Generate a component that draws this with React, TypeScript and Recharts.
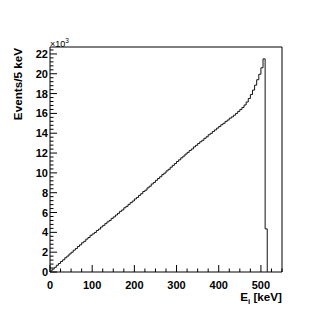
import { LineChart, Line, XAxis, YAxis, ReferenceArea } from 'recharts';

// 5 keV bins starting at 0 keV, counts per bin
const BIN_WIDTH = 5;
const counts = [
  100, 290, 470, 680, 860, 1060, 1230, 1440, 1610, 1820,
  1990, 2200, 2360, 2570, 2740, 2950, 3100, 3320, 3480, 3700,
  3840, 3990, 4190, 4330, 4540, 4700, 4880, 5060, 5200, 5410,
  5560, 5750, 5920, 6120, 6260, 6480, 6620, 6820, 7000, 7160,
  7370, 7520, 7730, 7900, 8120, 8260, 8490, 8650, 8880, 9040,
  9250, 9430, 9610, 9820, 9980, 10200, 10360, 10570, 10760, 10940,
  11150, 11320, 11520, 11690, 11900, 12070, 12260, 12410, 12620, 12780,
  12960, 13140, 13290, 13490, 13640, 13850, 13990, 14180, 14340, 14520,
  14680, 14860, 15000, 15190, 15330, 15520, 15650, 15820, 16000, 16200,
  16400, 16600, 16850, 17150, 17500, 17900, 18350, 18850, 19400, 19950,
  20600, 21500, 4350,
];

const xMajorTicks = [0, 100, 200, 300, 400, 500];
const yMajorTicks = [0, 2000, 4000, 6000, 8000, 10000, 12000, 14000, 16000, 18000, 20000, 22000];
const xAllTicks = Array.from({ length: 23 }, (_, i) => i * 25);
const yAllTicks = Array.from({ length: 57 }, (_, i) => i * 400);

const X_MAX = 550;
const Y_MAX = 22700;

const data = counts
  .map((n, i) => ({ e: i * BIN_WIDTH, n }))
  .concat([{ e: counts.length * BIN_WIDTH, n: 0 }]);

const FONT = '"Liberation Sans", Arial, Helvetica, sans-serif';

const XTick = (props: any) => {
  const { x, y, payload } = props;
  const major = xMajorTicks.includes(payload.value);
  return (
    <g>
      <line x1={x} y1={y} x2={x} y2={y - (major ? 7 : 3.5)} stroke="#000" strokeWidth={1} />
      {major && (
        <text x={x} y={y + 16.5} textAnchor="middle" fontFamily={FONT} fontWeight="bold" fontSize={11} fill="#000">
          {payload.value}
        </text>
      )}
    </g>
  );
};

const YTick = (props: any) => {
  const { x, y, payload } = props;
  const major = yMajorTicks.includes(payload.value);
  return (
    <g>
      <line x1={x} y1={y} x2={x + (major ? 7 : 3.5)} y2={y} stroke="#000" strokeWidth={1} />
      {major && (
        <text x={x - 2} y={y + 4} textAnchor="end" fontFamily={FONT} fontWeight="bold" fontSize={11} fill="#000">
          {payload.value / 1000}
        </text>
      )}
    </g>
  );
};

export default function App() {
  return (
    <div style={{ position: 'absolute', left: 0, top: 0, width: 332, height: 321, background: '#fff' }}>
      <LineChart width={332} height={321} data={data} margin={{ top: 47, right: 50, bottom: 19, left: 10 }}>
        <XAxis
          dataKey="e"
          type="number"
          domain={[0, X_MAX]}
          ticks={xAllTicks}
          interval={0}
          tick={<XTick />}
          tickLine={false}
          axisLine={false}
          tickSize={0}
          tickMargin={0}
          height={30}
        />
        <YAxis
          type="number"
          domain={[0, Y_MAX]}
          ticks={yAllTicks}
          interval={0}
          tick={<YTick />}
          tickLine={false}
          axisLine={false}
          tickSize={0}
          tickMargin={0}
          width={40}
          allowDataOverflow
        />
        <ReferenceArea x1={0} x2={X_MAX} y1={0} y2={Y_MAX} fill="none" stroke="#000" strokeWidth={1} fillOpacity={0} />
        <Line
          dataKey="n"
          type="stepAfter"
          stroke="#111"
          strokeWidth={1}
          dot={false}
          activeDot={false}
          isAnimationActive={false}
        />
      </LineChart>
      <svg width={332} height={321} style={{ position: 'absolute', left: 0, top: 0, pointerEvents: 'none' }}>
        <text x={50} y={47} fontFamily={FONT} fontSize={9} fill="#000">
          ×10<tspan dy={-4} fontSize={6.5}>3</tspan>
        </text>
        <text transform="translate(22,48) rotate(-90)" textAnchor="end" fontFamily={FONT} fontWeight="bold" fontSize={11.7} fill="#000">
          Events/5 keV
        </text>
        <text x={282} y={301} textAnchor="end" fontFamily={FONT} fontWeight="bold" fontSize={11.7} fill="#000">
          E<tspan dy={3} fontSize={8}>i</tspan><tspan dy={-3}> [keV]</tspan>
        </text>
      </svg>
    </div>
  );
}
